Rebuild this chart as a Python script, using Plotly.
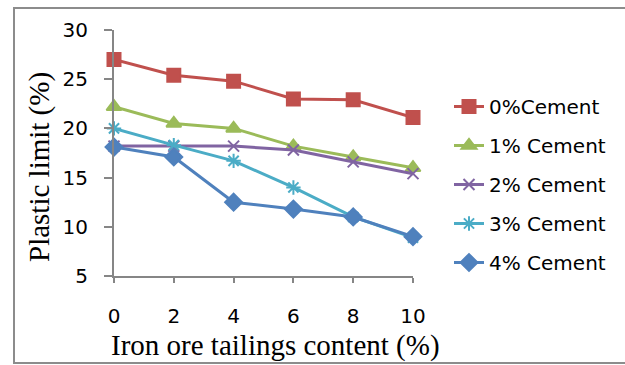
import plotly.graph_objects as go

# Iron ore tailings content (%)
tailings = [0, 2, 4, 6, 8, 10]

# Plastic limit (%) for each cement content
cement_0 = [27.0, 25.4, 24.8, 23.0, 22.9, 21.1]
cement_1 = [22.2, 20.5, 20.0, 18.2, 17.1, 16.0]
cement_2 = [18.2, 18.2, 18.2, 17.8, 16.6, 15.4]
cement_3 = [20.0, 18.3, 16.7, 14.0, 11.0, 8.9]
cement_4 = [18.1, 17.1, 12.5, 11.8, 11.0, 9.0]

series_names = ["0%Cement", "1% Cement", "2% Cement", "3% Cement", "4% Cement"]
y_ticks = [5, 10, 15, 20, 25, 30]
x_ticks = [0, 2, 4, 6, 8, 10]
x_title = "Iron ore tailings content (%)"
y_title = "Plastic limit (%)"

colors = ["#C0504D", "#9BBB59", "#8064A2", "#4BACC6", "#4F81BD"]
symbols = ["square", "triangle-up", "x-thin-open", "asterisk-open", "diamond"]
sizes = [13, 13, 11, 12, 13]

W, H = 625, 365
L, R, T, B = 114, 212, 30, 89
pw, ph = W - L - R, H - T - B

fig = go.Figure()
for name, ys, c, s, sz in zip(series_names,
                              [cement_0, cement_1, cement_2, cement_3, cement_4],
                              colors, symbols, sizes):
    fig.add_trace(go.Scatter(
        x=tailings, y=ys, name=name, legendgroup=name,
        mode="lines+markers",
        line=dict(color=c, width=3),
        marker=dict(symbol=s, size=sz, color=c,
                    line=dict(color=c, width=2)),
        cliponaxis=False,
    ))

axis_col = "#868686"
tick_font = dict(family="DejaVu Sans, sans-serif", size=20, color="#000000")
serif = "Liberation Serif, Times New Roman, serif"

fig.update_xaxes(
    range=[0, 10], tickvals=x_ticks, ticks="outside", ticklen=5, tickwidth=2,
    tickcolor=axis_col, showline=True, linecolor=axis_col, linewidth=2,
    showgrid=False, zeroline=False, tickfont=tick_font, ticklabelstandoff=16,
)
fig.update_yaxes(
    range=[5, 30], tickvals=y_ticks, ticks="outside", ticklen=8, tickwidth=2,
    tickcolor=axis_col, showline=True, linecolor=axis_col, linewidth=2,
    showgrid=False, zeroline=False, tickfont=tick_font, ticklabelstandoff=12,
)

def px_x(v):
    return (v - L) / pw

def px_y(v):
    return (H - B - v) / ph

# axis titles
fig.add_annotation(text=x_title, xref="paper", yref="paper",
                   x=px_x(275), y=px_y(345), xanchor="center", yanchor="middle",
                   showarrow=False,
                   font=dict(family=serif, size=29, color="#000000"))
fig.add_annotation(text=y_title, xref="paper", yref="paper",
                   x=px_x(39), y=px_y(167), xanchor="center", yanchor="middle",
                   textangle=-90, showarrow=False,
                   font=dict(family=serif, size=29, color="#000000"))

# outer chart frame
fig.add_shape(type="rect", xref="paper", yref="paper",
              x0=px_x(14), x1=px_x(640), y0=px_y(363), y1=px_y(8),
              line=dict(color="#8c8c8c", width=2), fillcolor="rgba(0,0,0,0)",
              layer="below")

fig.update_layout(
    width=W, height=H,
    margin=dict(l=L, r=R, t=T, b=B),
    paper_bgcolor="white", plot_bgcolor="white",
    showlegend=True,
    legend=dict(
        x=px_x(449), y=px_y(87), xanchor="left", yanchor="top",
        font=dict(family="DejaVu Sans, sans-serif", size=20, color="#000000"),
        tracegroupgap=10, traceorder="grouped",
        bgcolor="rgba(0,0,0,0)",
    ),
)

fig.write_html("out.html")
